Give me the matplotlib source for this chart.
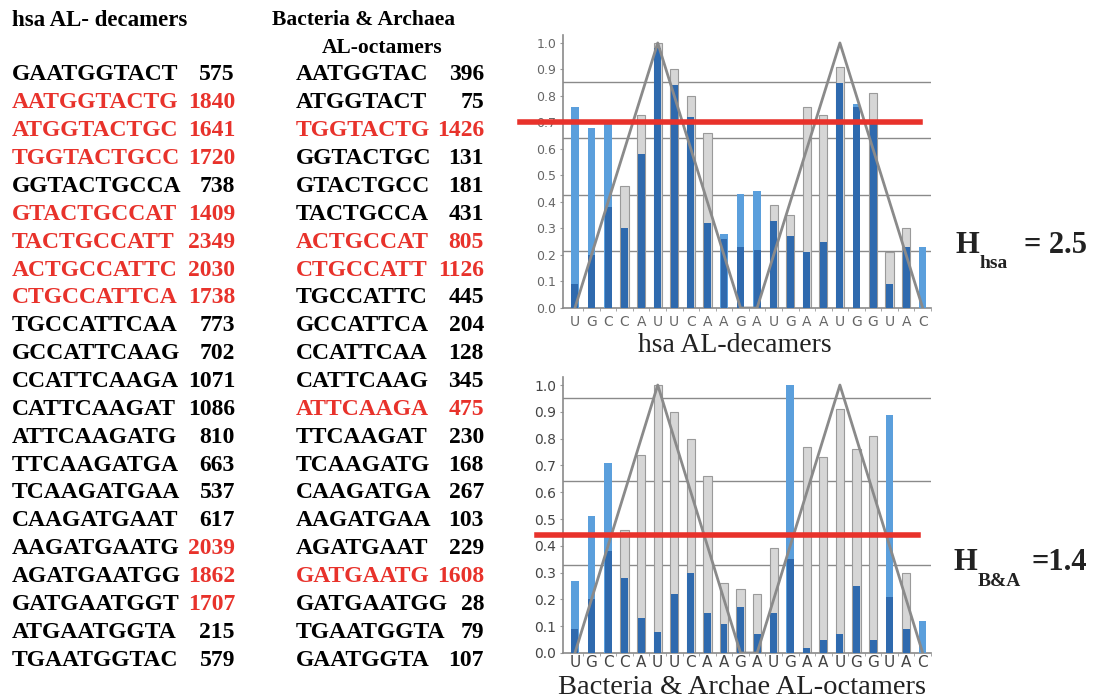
import numpy as np
import matplotlib
matplotlib.use("Agg")
import matplotlib.pyplot as plt

# ---- table data ----
hsa_seqs = ["GAATGGTACT", "AATGGTACTG", "ATGGTACTGC", "TGGTACTGCC", "GGTACTGCCA",
            "GTACTGCCAT", "TACTGCCATT", "ACTGCCATTC", "CTGCCATTCA", "TGCCATTCAA",
            "GCCATTCAAG", "CCATTCAAGA", "CATTCAAGAT", "ATTCAAGATG", "TTCAAGATGA",
            "TCAAGATGAA", "CAAGATGAAT", "AAGATGAATG", "AGATGAATGG", "GATGAATGGT",
            "ATGAATGGTA", "TGAATGGTAC"]
hsa_counts = [575, 1840, 1641, 1720, 738, 1409, 2349, 2030, 1738, 773, 702,
              1071, 1086, 810, 663, 537, 617, 2039, 1862, 1707, 215, 579]
hsa_seq_red = [0, 1, 1, 1, 0, 1, 1, 1, 1, 0, 0, 0, 0, 0, 0, 0, 0, 0, 0, 0, 0, 0]
hsa_num_red = [0, 1, 1, 1, 0, 1, 1, 1, 1, 0, 0, 0, 0, 0, 0, 0, 0, 1, 1, 1, 0, 0]

ba_seqs = ["AATGGTAC", "ATGGTACT", "TGGTACTG", "GGTACTGC", "GTACTGCC", "TACTGCCA",
           "ACTGCCAT", "CTGCCATT", "TGCCATTC", "GCCATTCA", "CCATTCAA", "CATTCAAG",
           "ATTCAAGA", "TTCAAGAT", "TCAAGATG", "CAAGATGA", "AAGATGAA", "AGATGAAT",
           "GATGAATG", "GATGAATGG", "TGAATGGTA", "GAATGGTA"]
ba_counts = [396, 75, 1426, 131, 181, 431, 805, 1126, 445, 204, 128, 345,
             475, 230, 168, 267, 103, 229, 1608, 28, 79, 107]
ba_red = [0, 0, 1, 0, 0, 0, 1, 1, 0, 0, 0, 0, 1, 0, 0, 0, 0, 0, 1, 0, 0, 0]

# ---- chart data ----
letters = list("UGCCAUUCAAGAUGAAUGGUAC")
triangle = [0, .2, .4, .6, .8, 1, .8, .6, .4, .2, 0,
            0, .2, .4, .6, .8, 1, .8, .6, .4, .2, 0]

hsa_light = [0.76, 0.68, 0.71, 0, 0, 0, 0, 0, 0, 0.28, 0.43, 0.44, 0, 0, 0, 0, 0, 0.77, 0, 0, 0, 0.23]
hsa_gray = [0, 0, 0, 0.46, 0.73, 1.0, 0.90, 0.80, 0.66, 0, 0, 0, 0.39, 0.35, 0.76, 0.73, 0.91, 0, 0.81, 0.21, 0.30, 0]
hsa_dark = [0.09, 0.20, 0.38, 0.30, 0.58, 0.98, 0.84, 0.72, 0.32, 0.26, 0.23, 0.22, 0.33, 0.27,
            0.21, 0.25, 0.85, 0.76, 0.71, 0.09, 0.23, 0]
hsa_refs = [0.852, 0.64, 0.428, 0.216]
hsa_thresh = 0.70

ba_light = [0.27, 0.51, 0.71, 0, 0, 0, 0, 0, 0, 0, 0, 0, 0, 1.0, 0, 0, 0, 0, 0, 0.89, 0, 0.12]
ba_gray = [0, 0, 0, 0.46, 0.74, 1.0, 0.90, 0.80, 0.66, 0.26, 0.24, 0.22, 0.39, 0, 0.77, 0.73, 0.91, 0.76, 0.81, 0, 0.30, 0]
ba_dark = [0.09, 0.20, 0.38, 0.28, 0.13, 0.08, 0.22, 0.30, 0.15, 0.11, 0.17, 0.07, 0.15, 0.35,
           0.02, 0.05, 0.07, 0.25, 0.05, 0.21, 0.09, 0]
ba_refs = [0.953, 0.641, 0.328]
ba_thresh = 0.44

RED = '#e8322b'
W, H = 1093, 698

fig = plt.figure(figsize=(W / 100, H / 100), dpi=100)
fig.patch.set_facecolor('white')


def fx(px):
    return px / W


def fy(py):
    return 1 - py / H


# ---- left tables ----
serif = 'Liberation Serif'
fig.text(fx(12), fy(20), "hsa AL- decamers", family=serif, weight='bold',
         fontsize=16.5, va='center', ha='left')
fig.text(fx(272), fy(20), "Bacteria & Archaea", family=serif, weight='bold',
         fontsize=15.5, va='center', ha='left')
fig.text(fx(322), fy(48), "AL-octamers", family=serif, weight='bold',
         fontsize=15.5, va='center', ha='left')

for i in range(len(hsa_seqs)):
    y = fy(75 + i * 27.86)
    fig.text(fx(12), y, hsa_seqs[i], family=serif, weight='bold', fontsize=17,
             va='center', ha='left', color=RED if hsa_seq_red[i] else 'black')
    fig.text(fx(235), y, str(hsa_counts[i]), family=serif, weight='bold', fontsize=17,
             va='center', ha='right', color=RED if hsa_num_red[i] else 'black')
    c = RED if ba_red[i] else 'black'
    fig.text(fx(296), y, ba_seqs[i], family=serif, weight='bold', fontsize=17,
             va='center', ha='left', color=c)
    fig.text(fx(484), y, str(ba_counts[i]), family=serif, weight='bold', fontsize=17,
             va='center', ha='right', color=c)


# ---- charts ----
def draw_chart(ax, light, gray, dark, refs, thresh, red_span, tick_size, tick_color, pad):
    x = np.arange(len(letters))
    light = np.array(light)
    gray = np.array(gray)
    dark = np.array(dark)
    for r in refs:
        ax.axhline(r, color='#8a8a8a', lw=1.0, zorder=1)
    m = gray > 0
    ax.bar(x[m], gray[m], width=0.5, color='#d6d6d6', edgecolor='#9a9a9a', lw=0.8, zorder=2)
    m = light > 0
    ax.bar(x[m], light[m], width=0.45, color='#5b9fdc', zorder=3)
    m = dark > 0
    ax.bar(x[m], dark[m], width=0.42, color='#2f6aae', zorder=4)
    ax.plot(x, triangle, color='#8a8a8a', lw=2, zorder=5)
    ax.axhline(thresh, xmin=red_span[0], xmax=red_span[1], color=RED, lw=4,
               zorder=6, clip_on=False)
    ax.set_xlim(-0.72, 21.5)
    ax.set_ylim(0, 1.03)
    ax.set_yticks(np.arange(0, 1.01, 0.1))
    ax.set_yticklabels(["%.1f" % v for v in np.arange(0, 1.01, 0.1)])
    ax.set_xticks(x)
    ax.set_xticklabels(letters)
    ax.set_xticks(x + 0.5, minor=True)
    ax.tick_params(axis='x', which='major', length=0, pad=pad, labelsize=tick_size + 1,
                   labelcolor=tick_color)
    ax.tick_params(axis='x', which='minor', length=2, color='#999999')
    ax.tick_params(axis='y', length=2, color='#999999', pad=3, labelsize=tick_size,
                   labelcolor=tick_color)
    for s in ['top', 'right']:
        ax.spines[s].set_visible(False)
    for s in ['left', 'bottom']:
        ax.spines[s].set_color('#8a8a8a')
        ax.spines[s].set_linewidth(1.2)
    ax.set_facecolor('white')


ax1 = fig.add_axes([fx(563), 390 / H, 368 / W, 273 / H])
draw_chart(ax1, hsa_light, hsa_gray, hsa_dark, hsa_refs, hsa_thresh,
           (-0.117, 0.97), 9, '#666666', 5)
ax2 = fig.add_axes([fx(563), 45 / H, 368 / W, 276 / H])
draw_chart(ax2, ba_light, ba_gray, ba_dark, ba_refs, ba_thresh,
           (-0.07, 0.965), 10, '#444444', 1.5)

fig.text(fx(735), fy(352), "hsa AL-decamers", family=serif, fontsize=20,
         va='baseline', ha='center', color='#222222')
fig.text(fx(742), fy(694), "Bacteria & Archae AL-octamers", family=serif, fontsize=20.5,
         va='baseline', ha='center', color='#222222')

# entropy labels: H, subscript, value
for xh, yh, sub, val in [(956, 245, "hsa", "= 2.5"), (954, 562, "B&A", "=1.4")]:
    fig.text(fx(xh), fy(yh), "H", family=serif, weight='bold', fontsize=22,
             va='center', ha='left', color='#222222')
    fig.text(fx(xh + 24), fy(yh + 19), sub, family=serif, weight='bold', fontsize=14,
             va='center', ha='left', color='#222222')
    fig.text(fx(1087), fy(yh), val, family=serif, weight='bold', fontsize=22,
             va='center', ha='right', color='#222222')

fig.savefig("out.png", dpi=100, facecolor='white')
